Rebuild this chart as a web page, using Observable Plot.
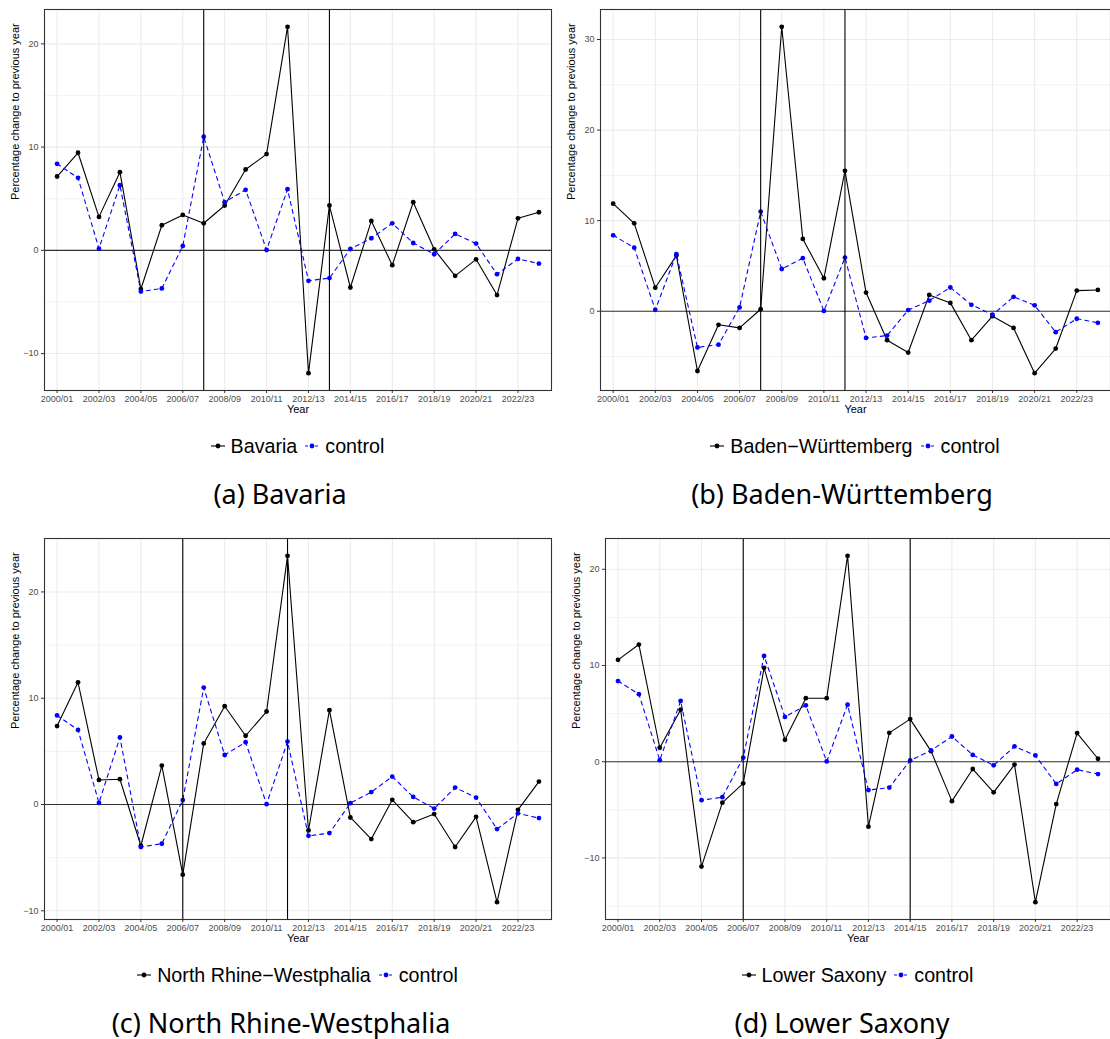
<!DOCTYPE html>
<html>
<head>
<meta charset="utf-8">
<script src="https://cdn.jsdelivr.net/npm/d3@7"></script>
<script src="https://cdn.jsdelivr.net/npm/@observablehq/plot@0.6"></script>
<style>
  html, body { margin: 0; padding: 0; background: #fff; overflow: hidden; }
  #root { position: relative; width: 1110px; height: 1039px; }
  .cell { position: absolute; width: 555px; height: 510px; }
  .cell svg.plot { position: absolute; left: 0; top: 0; }
  .legend { position: absolute; top: 434px; height: 24px; display: flex; justify-content: center; align-items: center;
            font-family: "Liberation Sans", Arial, sans-serif; font-size: 19.7px; color: #000; white-space: nowrap; }
  .legend .item { display: flex; align-items: center; }
  .legend .item svg { margin-right: 6px; }
  .legend .item + .item { margin-left: 8px; }
  .caption { position: absolute; top: 477px; width: 400px; text-align: center; font-family: "Noto Sans", "Open Sans", sans-serif;
             font-size: 27px; line-height: 34px; color: #000; white-space: nowrap; }
</style>
</head>
<body>
<div id="root"></div>
<script>
// ---------------- DATA ----------------
const years = ["2000/01","2001/02","2002/03","2003/04","2004/05","2005/06","2006/07","2007/08",
  "2008/09","2009/10","2010/11","2011/12","2012/13","2013/14","2014/15","2015/16",
  "2016/17","2017/18","2018/19","2019/20","2020/21","2021/22","2022/23","2023/24"];

const control = [8.38, 7.02, 0.16, 6.31, -4.0, -3.69, 0.42, 11.0, 4.66, 5.86, 0.03, 5.92,
  -2.95, -2.69, 0.13, 1.17, 2.62, 0.71, -0.38, 1.59, 0.65, -2.31, -0.83, -1.28];

const bavaria = [7.15, 9.45, 3.24, 7.57, -3.75, 2.43, 3.43, 2.62, 4.34, 7.83, 9.32, 21.65,
  -11.9, 4.34, -3.6, 2.85, -1.44, 4.66, 0.1, -2.47, -0.87, -4.33, 3.1, 3.69];

const badenWuerttemberg = [11.87, 9.7, 2.6, 6.14, -6.6, -1.5, -1.84, 0.22, 31.4, 7.98, 3.64, 15.5,
  2.06, -3.2, -4.56, 1.8, 0.92, -3.2, -0.55, -1.84, -6.84, -4.12, 2.28, 2.35];

const northRhineWestphalia = [7.38, 11.5, 2.31, 2.38, -3.88, 3.66, -6.6, 5.75, 9.25, 6.47, 8.75, 23.4,
  -2.44, 8.88, -1.22, -3.25, 0.44, -1.66, -0.9, -4.0, -1.16, -9.19, -0.5, 2.16];

const lowerSaxony = [10.59, 12.18, 1.45, 5.4, -10.9, -4.26, -2.25, 9.76, 2.28, 6.6, 6.6, 21.4,
  -6.75, 3.0, 4.43, 1.1, -4.1, -0.76, -3.18, -0.3, -14.6, -4.4, 2.98, 0.31];

const bavariaEvents = ["2007/08", "2013/14"];
const bwEvents = ["2007/08", "2011/12"];
const nrwEvents = ["2006/07", "2011/12"];
const lsEvents = ["2006/07", "2014/15"];

const tickYears = years.filter((d, i) => i % 2 === 0);

const panels = [
  {name: "Bavaria", legendName: "Bavaria", caption: "(a) Bavaria", values: bavaria, events: bavariaEvents,
   left: 0, top: 0, ml: 44, mr: 4, capCenter: 280},
  {name: "Baden-Württemberg", legendName: "Baden\u2212Württemberg", caption: "(b) Baden-Württemberg", values: badenWuerttemberg, events: bwEvents,
   left: 555, top: 0, ml: 45, mr: 0, capCenter: 287},
  {name: "North Rhine-Westphalia", legendName: "North Rhine\u2212Westphalia", caption: "(c) North Rhine-Westphalia", values: northRhineWestphalia, events: nrwEvents,
   left: 0, top: 529, ml: 44, mr: 4, capCenter: 281},
  {name: "Lower Saxony", legendName: "Lower Saxony", caption: "(d) Lower Saxony", values: lowerSaxony, events: lsEvents,
   left: 555, top: 529, ml: 50, mr: 0, capCenter: 287}
];

// ---------------- DRAW ----------------
const root = document.getElementById("root");
const W = 555, H = 420, MT = 9, MB = 30;
const idx = y => years.indexOf(y);

function legendKey(color, dashed) {
  return `<svg width="14" height="10" viewBox="0 0 14 10"><line x1="0" x2="14" y1="5" y2="5" stroke="${color}" stroke-width="1.1" ${dashed ? 'stroke-dasharray="3,2"' : ''}/><circle cx="7" cy="5" r="2.4" fill="${color}"/></svg>`;
}

for (const p of panels) {
  const state = years.map((y, i) => ({i, v: p.values[i]}));
  const ctrl = years.map((y, i) => ({i, v: control[i]}));
  const all = p.values.concat(control);
  const mn = d3.min(all), mx = d3.max(all), pad = (mx - mn) * 0.05;
  const lo = mn - pad, hi = mx + pad;
  const yMajor = d3.range(Math.ceil(lo / 10) * 10, hi, 10);
  const yMinor = d3.range(Math.ceil(lo / 5) * 5, hi, 5).filter(v => v % 10 !== 0);
  const xMajor = tickYears.map(idx);

  const chart = Plot.plot({
    width: W, height: H,
    marginLeft: p.ml, marginRight: p.mr, marginTop: MT, marginBottom: MB,
    style: {fontFamily: "'Liberation Sans', Arial, sans-serif", fontSize: "9px", color: "#4D4D4D", background: "white"},
    x: {type: "linear", domain: [-0.6, 23.6], label: null},
    y: {domain: [lo, hi], label: null},
    marks: [
      Plot.gridY(yMinor, {stroke: "#EBEBEB", strokeOpacity: 1, strokeWidth: 0.6}),
      Plot.gridY(yMajor, {stroke: "#EBEBEB", strokeOpacity: 1, strokeWidth: 1.1}),
      Plot.gridX(xMajor, {stroke: "#EBEBEB", strokeOpacity: 1, strokeWidth: 1.1}),
      Plot.ruleY([0], {stroke: "#333333", strokeWidth: 1.1}),
      Plot.line(state, {x: "i", y: "v", stroke: "black", strokeWidth: 1.1}),
      Plot.dot(state, {x: "i", y: "v", fill: "black", r: 2.4}),
      Plot.line(ctrl, {x: "i", y: "v", stroke: "#0000FF", strokeWidth: 1.1, strokeDasharray: "4,4"}),
      Plot.dot(ctrl, {x: "i", y: "v", fill: "#0000FF", r: 2.4}),
      Plot.ruleX(p.events, {x: d => idx(d), stroke: "black", strokeWidth: 1.1}),
      Plot.frame({stroke: "#333333", strokeWidth: 1.1}),
      Plot.axisX(xMajor, {tickFormat: i => years[i], tickSize: 3, tickPadding: 2, stroke: "#333333", label: null}),
      Plot.axisY(yMajor, {tickSize: 3, tickPadding: 3, stroke: "#333333", label: null}),
      Plot.text(["Year"], {frameAnchor: "bottom", dy: 22, fill: "black", fontSize: 11, text: d => d}),
      Plot.text(["Percentage change to previous year"], {frameAnchor: "left", dx: -29, rotate: -90, fill: "black", fontSize: 11, text: d => d})
    ]
  });
  chart.classList.add("plot");

  const cell = document.createElement("div");
  cell.className = "cell";
  cell.style.left = p.left + "px";
  cell.style.top = p.top + "px";
  cell.appendChild(chart);

  const legend = document.createElement("div");
  legend.className = "legend";
  legend.style.left = p.ml + "px";
  legend.style.width = (W - p.ml - p.mr) + "px";
  legend.innerHTML = `<div class="item">${legendKey("black", false)}<span>${p.legendName}</span></div>` +
                     `<div class="item">${legendKey("#0000FF", true)}<span>control</span></div>`;
  cell.appendChild(legend);

  const cap = document.createElement("div");
  cap.className = "caption";
  cap.style.left = (p.capCenter - 200) + "px";
  cap.textContent = p.caption;
  cell.appendChild(cap);

  root.appendChild(cell);
}
</script>
</body>
</html>
